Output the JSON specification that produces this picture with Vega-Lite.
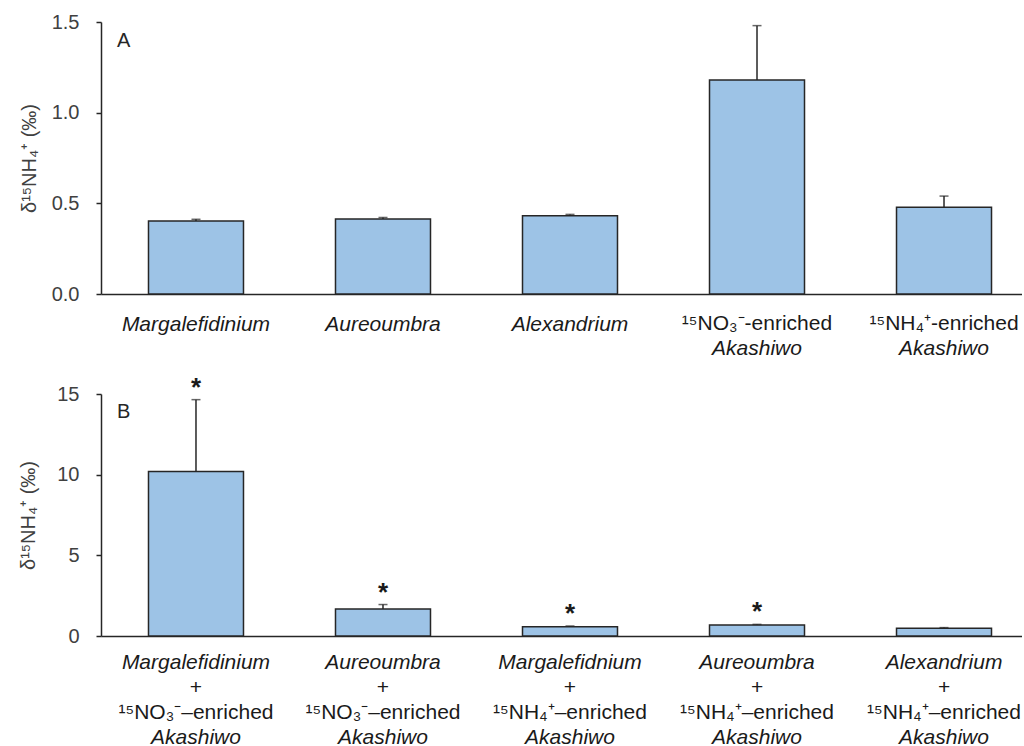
{
  "$schema": "https://vega.github.io/schema/vega-lite/v6.json",
  "background": "white",
  "padding": {"left": 18, "top": 12, "right": 0, "bottom": 0},
  "bounds": "flush",
  "spacing": 100,
  "config": {
    "font": "Liberation Sans",
    "view": {"stroke": null},
    "axis": {
      "domainColor": "#262626", "domainWidth": 1.5,
      "tickColor": "#262626", "tickWidth": 1.5, "tickSize": 5,
      "labelFont": "Liberation Sans", "labelFontSize": 20, "labelColor": "#404040", "labelPadding": 17,
      "labelFlush": false, "labelOverlap": false,
      "titleFont": "Liberation Sans", "titleFontSize": 20, "titleFontWeight": "normal", "titleColor": "#404040", "titlePadding": 12,
      "grid": false
    },
    "title": {"font": "Liberation Sans", "fontSize": 20, "fontWeight": "normal", "color": "#262626"}
  },
  "datasets": {
    "a": [
      {"key": "A1", "value": 0.403, "hi": 0.412, "a1": "Margalefidinium", "n1": "", "a2": ""},
      {"key": "A2", "value": 0.413, "hi": 0.422, "a1": "Aureoumbra", "n1": "", "a2": ""},
      {"key": "A3", "value": 0.431, "hi": 0.439, "a1": "Alexandrium", "n1": "", "a2": ""},
      {"key": "A4", "value": 1.18, "hi": 1.48, "a1": "", "n1": "¹⁵NO₃⁻-enriched", "a2": "Akashiwo"},
      {"key": "A5", "value": 0.478, "hi": 0.54, "a1": "", "n1": "¹⁵NH₄⁺-enriched", "a2": "Akashiwo"}
    ],
    "b": [
      {"key": "B1", "value": 10.2, "hi": 14.65, "star": "*", "l1": "Margalefidinium", "l2": "+", "l3": "¹⁵NO₃⁻–enriched", "l4": "Akashiwo"},
      {"key": "B2", "value": 1.68, "hi": 1.95, "star": "*", "l1": "Aureoumbra", "l2": "+", "l3": "¹⁵NO₃⁻–enriched", "l4": "Akashiwo"},
      {"key": "B3", "value": 0.58, "hi": 0.62, "star": "*", "l1": "Margalefidnium", "l2": "+", "l3": "¹⁵NH₄⁺–enriched", "l4": "Akashiwo"},
      {"key": "B4", "value": 0.68, "hi": 0.72, "star": "*", "l1": "Aureoumbra", "l2": "+", "l3": "¹⁵NH₄⁺–enriched", "l4": "Akashiwo"},
      {"key": "B5", "value": 0.48, "hi": 0.52, "star": "", "l1": "Alexandrium", "l2": "+", "l3": "¹⁵NH₄⁺–enriched", "l4": "Akashiwo"}
    ]
  },
  "vconcat": [
    {
      "width": 921,
      "height": 272,
      "data": {"name": "a"},
      "title": {"text": "A", "anchor": "start", "frame": "group", "dx": 16, "dy": 43},
      "encoding": {
        "x": {
          "field": "key", "type": "nominal", "sort": null,
          "scale": {"paddingInner": 0.492, "paddingOuter": 0.2085, "align": 0.609},
          "axis": {"labels": false, "ticks": false, "title": null}
        }
      },
      "layer": [
        {
          "mark": {"type": "bar", "fill": "#9DC3E6", "stroke": "#262626", "strokeWidth": 1.5},
          "encoding": {
            "y": {"field": "value", "type": "quantitative", "title": "δ¹⁵NH₄⁺ (‰)",
              "scale": {"domain": [0, 1.5], "nice": false},
              "axis": {"values": [0, 0.5, 1, 1.5], "format": ".1f", "titleFontSize": 20, "titlePadding": 12}}
          }
        },
        {
          "mark": {"type": "rule", "color": "#262626", "strokeWidth": 1.5},
          "encoding": {
            "y": {"field": "value", "type": "quantitative", "title": "δ¹⁵NH₄⁺ (‰)"},
            "y2": {"field": "hi"}
          }
        },
        {
          "mark": {"type": "tick", "color": "#262626", "size": 9, "thickness": 1.5},
          "encoding": {
            "y": {"field": "hi", "type": "quantitative", "title": "δ¹⁵NH₄⁺ (‰)"}
          }
        },
        {
          "mark": {"type": "text", "fontStyle": "italic", "fontSize": 21, "baseline": "alphabetic", "dy": 37, "color": "#1a1a1a"},
          "encoding": {
            "y": {"datum": 0, "type": "quantitative", "title": "δ¹⁵NH₄⁺ (‰)"},
            "text": {"field": "a1"}
          }
        },
        {
          "mark": {"type": "text", "fontStyle": "normal", "fontSize": 21, "baseline": "alphabetic", "dy": 36, "color": "#1a1a1a"},
          "encoding": {
            "y": {"datum": 0, "type": "quantitative", "title": "δ¹⁵NH₄⁺ (‰)"},
            "text": {"field": "n1"}
          }
        },
        {
          "mark": {"type": "text", "fontStyle": "italic", "fontSize": 21, "baseline": "alphabetic", "dy": 61, "color": "#1a1a1a"},
          "encoding": {
            "y": {"datum": 0, "type": "quantitative", "title": "δ¹⁵NH₄⁺ (‰)"},
            "text": {"field": "a2"}
          }
        }
      ]
    },
    {
      "width": 921,
      "height": 242,
      "data": {"name": "b"},
      "title": {"text": "B", "anchor": "start", "frame": "group", "dx": 16, "dy": 51},
      "encoding": {
        "x": {
          "field": "key", "type": "nominal", "sort": null,
          "scale": {"paddingInner": 0.492, "paddingOuter": 0.2085, "align": 0.609},
          "axis": {"labels": false, "ticks": false, "title": null}
        }
      },
      "layer": [
        {
          "mark": {"type": "bar", "fill": "#9DC3E6", "stroke": "#262626", "strokeWidth": 1.5},
          "encoding": {
            "y": {"field": "value", "type": "quantitative", "title": "δ¹⁵NH₄⁺ (‰)",
              "scale": {"domain": [0, 15], "nice": false},
              "axis": {"values": [0, 5, 10, 15], "format": "d", "titleFontSize": 20, "titlePadding": 18}}
          }
        },
        {
          "mark": {"type": "rule", "color": "#262626", "strokeWidth": 1.5},
          "encoding": {
            "y": {"field": "value", "type": "quantitative", "title": "δ¹⁵NH₄⁺ (‰)"},
            "y2": {"field": "hi"}
          }
        },
        {
          "mark": {"type": "tick", "color": "#262626", "size": 9, "thickness": 1.5},
          "encoding": {
            "y": {"field": "hi", "type": "quantitative", "title": "δ¹⁵NH₄⁺ (‰)"}
          }
        },
        {
          "mark": {"type": "text", "fontSize": 26, "fontWeight": "bold", "baseline": "alphabetic", "dy": -4, "color": "#1a1a1a"},
          "encoding": {
            "y": {"field": "hi", "type": "quantitative", "title": "δ¹⁵NH₄⁺ (‰)"},
            "text": {"field": "star"}
          }
        },
        {
          "mark": {"type": "text", "fontStyle": "italic", "fontSize": 21, "baseline": "alphabetic", "dy": 33, "color": "#1a1a1a"},
          "encoding": {
            "y": {"datum": 0, "type": "quantitative", "title": "δ¹⁵NH₄⁺ (‰)"},
            "text": {"field": "l1"}
          }
        },
        {
          "mark": {"type": "text", "fontStyle": "normal", "fontSize": 21, "baseline": "alphabetic", "dy": 58, "color": "#1a1a1a"},
          "encoding": {
            "y": {"datum": 0, "type": "quantitative", "title": "δ¹⁵NH₄⁺ (‰)"},
            "text": {"field": "l2"}
          }
        },
        {
          "mark": {"type": "text", "fontStyle": "normal", "fontSize": 21, "baseline": "alphabetic", "dy": 83, "color": "#1a1a1a"},
          "encoding": {
            "y": {"datum": 0, "type": "quantitative", "title": "δ¹⁵NH₄⁺ (‰)"},
            "text": {"field": "l3"}
          }
        },
        {
          "mark": {"type": "text", "fontStyle": "italic", "fontSize": 21, "baseline": "alphabetic", "dy": 108, "color": "#1a1a1a"},
          "encoding": {
            "y": {"datum": 0, "type": "quantitative", "title": "δ¹⁵NH₄⁺ (‰)"},
            "text": {"field": "l4"}
          }
        }
      ]
    }
  ]
}
